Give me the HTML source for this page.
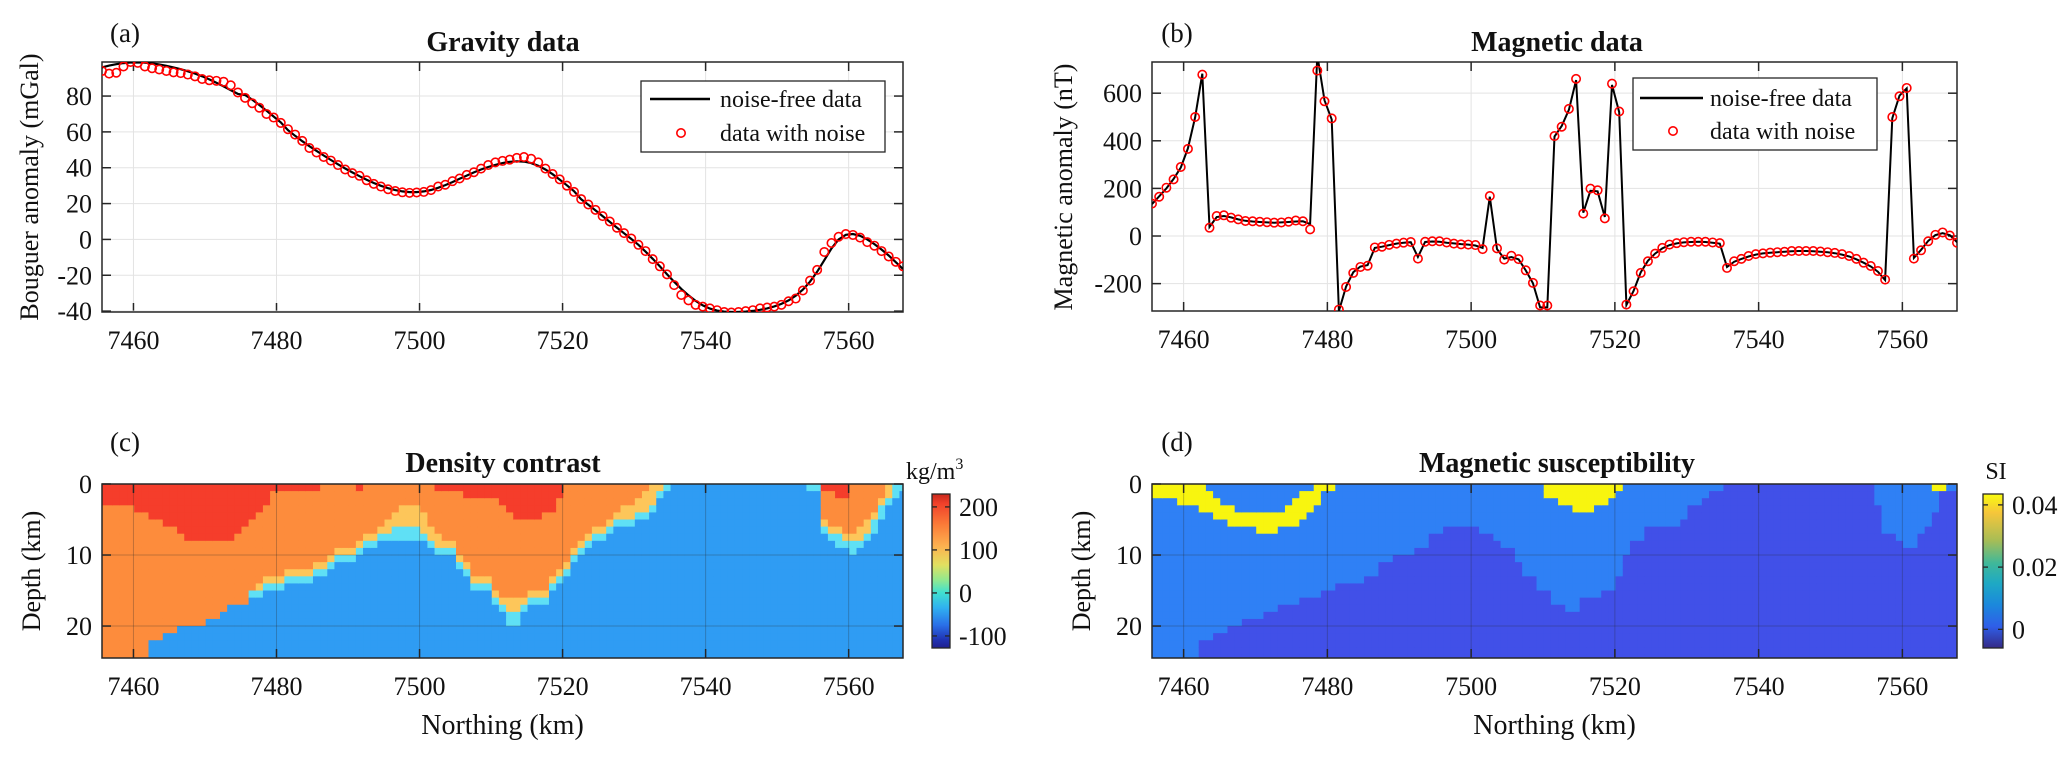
<!DOCTYPE html>
<html><head><meta charset="utf-8"><style>
html,body{margin:0;padding:0;background:#fff}
svg{display:block;font-family:"Liberation Serif","Times New Roman",serif}
</style></head><body>
<svg id="fig" width="2067" height="759" viewBox="0 0 2067 759" xmlns="http://www.w3.org/2000/svg">
<defs>
<clipPath id="clipA"><rect x="102" y="62" width="801" height="250"/></clipPath>
<clipPath id="clipB"><rect x="1152" y="62" width="805" height="249"/></clipPath>
<clipPath id="clipC"><rect x="102" y="484" width="801" height="174"/></clipPath>
<clipPath id="clipD"><rect x="1152" y="484" width="805" height="174"/></clipPath>
<linearGradient id="jetGrad" x1="0" y1="0" x2="0" y2="1">
<stop offset="0" stop-color="#c8281c"/><stop offset="0.06" stop-color="#f0402a"/><stop offset="0.2" stop-color="#fb7c38"/><stop offset="0.34" stop-color="#fcb250"/><stop offset="0.46" stop-color="#e2e060"/><stop offset="0.56" stop-color="#90e890"/><stop offset="0.64" stop-color="#40e0d0"/><stop offset="0.74" stop-color="#30b0f0"/><stop offset="0.85" stop-color="#2a70e8"/><stop offset="0.95" stop-color="#2030b0"/><stop offset="1" stop-color="#202090"/>
</linearGradient>
<linearGradient id="parGrad" x1="0" y1="0" x2="0" y2="1">
<stop offset="0" stop-color="#f9fb0e"/><stop offset="0.12" stop-color="#f6c63a"/><stop offset="0.3" stop-color="#a8bd55"/><stop offset="0.45" stop-color="#3fb89a"/><stop offset="0.58" stop-color="#1ea9c4"/><stop offset="0.72" stop-color="#1b88dc"/><stop offset="0.86" stop-color="#2f5ee8"/><stop offset="1" stop-color="#352a87"/>
</linearGradient>
</defs>
</svg>
<script>
// ---------- data ----------
const gravityClean = [96,97,97.8,98.4,98.7,98.8,98.6,98.2,97.6,96.9,96,95,93.8,92.5,91,89.3,87.4,85.4,83.3,81.2,80.6,78,75,71.8,68.6,65.3,61,57.8,54.8,52,49.4,46.8,44.3,41.9,39.6,37.4,35.3,33.3,31.5,29.9,28.6,27.5,26.8,26.4,26.4,26.8,27.6,28.8,30.3,32,33.8,35.6,37.4,39,40.4,41.6,42.6,43.3,43.6,43.4,42.6,41.1,39,36.4,33.4,30.2,26.9,22.4,19.3,16.2,13,9.8,6.6,3.4,0.3,-3,-6.8,-10.8,-15,-19.4,-23.6,-27.6,-31.2,-34.3,-36.8,-38.6,-39.7,-40.3,-40.5,-40.5,-40.3,-39.9,-39.3,-38.5,-37.4,-36,-34,-31.4,-28,-23.6,-18,-11.6,-5,0,2.6,3,2,0,-2.6,-5.6,-9,-12.7,-16.5];
const gravityNoisy = [94,92.5,93,96.5,99,98.5,96.5,95.5,94.8,94,93.2,92.8,92,91,89.5,88.8,88.5,88,86,82,79,76,73.5,70,68,65,61.5,58.5,55,51,48.5,46,44,41.5,39,37,35.5,33,31,29.5,28,27,26.3,26,26.2,26.5,27.5,29.5,30.5,32.5,34,36,37.5,39.5,41.5,43,43.8,44.5,45.5,46,45,43,39.5,36.5,33.5,30,26.5,22.5,19.5,16.5,13,10,6.5,3.5,0.5,-3,-6.5,-11,-15,-19.5,-25.5,-31,-34,-36.5,-37.5,-38.5,-39.5,-40.5,-40.8,-40.5,-40,-39.5,-38.5,-38,-37.5,-36.5,-34.5,-33,-28.5,-23,-17,-7,-2,1.5,3,2.5,1,-1.5,-3.5,-6.5,-9.5,-12.5,-15];
const magNoisy = [136,165,203,238,290,366,500,678,35,84,87,77,70,63,62,60,58,56,57,60,65,62,28,695,566,494,-309,-214,-155,-130,-125,-48,-45,-37,-32,-28,-25,-95,-24,-22,-22,-27,-32,-35,-36,-38,-55,168,-52,-99,-83,-97,-144,-197,-292,-292,420,459,534,660,94,199,192,74,640,523,-288,-232,-155,-106,-74,-50,-36,-30,-26,-24,-24,-24,-27,-30,-134,-106,-96,-84,-76,-73,-70,-68,-66,-63,-63,-63,-63,-65,-68,-71,-76,-84,-96,-112,-126,-147,-183,500,587,622,-95,-60,-22,5,15,2,-28];
const magClean = [134,167,200,240,288,368,498,682,38,80,84,78,70,64,61,59,57,56,57,59,61,62,50,760,570,490,-315,-212,-152,-128,-122,-50,-45,-38,-32,-28,-26,-88,-25,-23,-24,-28,-31,-34,-36,-40,-50,165,-55,-95,-88,-98,-145,-198,-300,-300,418,462,530,655,98,190,188,80,635,520,-290,-230,-152,-104,-74,-52,-38,-31,-27,-25,-24,-25,-28,-32,-130,-108,-96,-86,-78,-73,-70,-68,-66,-64,-63,-63,-64,-66,-68,-72,-78,-86,-98,-112,-128,-150,-185,495,590,620,-92,-58,-20,4,12,4,-26];
// density model layer bottoms (km depth) per 1-km column, 7456..7568
const densRedBot = [3,3,3,3,3.5,4,4.5,5,5.5,6,6.5,7,7.6,7.6,7.6,7.6,7.6,7.6,7.6,7,6,5,4,3,1.5,1,1,0.6,0.6,0.6,0.6,0,0,0,0,0,0.6,0,0,0,0,0,0,0,0,0,0,0.6,0.8,0.8,0.8,1.6,1.6,1.6,1.6,2,2.6,3.6,4.6,4.6,5.2,4.6,4,3.6,2.2,0,0,0,0,0,0,0,0,0,0,0,0,0,0,0,0,0,0,0,0,0,0,0,0,0,0,0,0,0,0,0,0,0,0,0,0,1,1,2.3,2.3,0,0,0,0,0,0,0,0];
const densOrangeBot = [24.5,24.5,24.5,24.5,24.5,24.5,24.5,21.6,21.6,21,21,20.3,20.3,19.6,19.6,18.7,18.7,18,17.3,17.3,16.6,14.6,14,13,13,13,12.4,12.4,12.4,11.7,11,11,10.2,9.5,8.8,8.8,8.3,7.4,7,6,5,4.2,3.5,3,3,4.5,6,7.2,8.3,8.3,10,11.2,12.6,13.5,13.5,15.2,15.8,16.2,16.2,16,15.4,15.4,15.4,13.5,11.8,10.6,9.2,7.8,6.9,6,5.6,4.6,3.8,3.3,2.6,1.6,1,0.3,0,0,0,0,0,0,0,0,0,0,0,0,0,0,0,0,0,0,0,0,0,0,0,5,6,6.5,7,7.5,6.5,5.5,4.5,2.5,0,0,0];
const densYellowBot = [24.5,24.5,24.5,24.5,24.5,24.5,24.5,21.6,21.6,21,21,20.3,20.3,19.6,19.6,18.7,18.7,18,17.3,17.3,16.6,15,15,14,14,14,13.4,13.4,13.4,12.7,12,12,11.2,10.5,9.8,9.8,9.3,8.4,8.4,7.5,7,6.2,6,6,6.2,7,7.8,8.6,9.3,9.3,11,12.2,13.6,14.5,14.5,16.2,16.8,17.6,17.6,17.4,16.4,16.4,16.4,14.5,12.8,11.6,10.2,8.8,7.9,7,7,6,5.3,5.3,4.6,3.6,3.6,2.7,1.3,0.2,0,0,0,0,0,0,0,0,0,0,0,0,0,0,0,0,0,0,0,0,0,6,7,7.5,8,8.5,8,7,5.5,3.5,2,0.5,0];
const densBlueTop = [24.5,24.5,24.5,24.5,24.5,24.5,24.5,21.6,21.6,21,21,20.3,20.3,19.6,19.6,18.7,18.7,18,17.3,17.3,16.6,15.9,15.9,15,15,15,14.4,14.4,14.4,13.7,13,13,12.2,11.5,10.8,10.8,10.3,9.4,9.4,8.5,8,7.6,7.6,7.6,7.6,8.2,8.9,9.6,10.3,10.3,12,13.2,14.6,15.5,15.5,17.4,18,19.6,19.6,18.5,17.4,17.4,17.4,15.5,13.8,12.6,11.2,9.8,8.9,8,8,7,6.3,6.3,5.6,4.6,4.6,3.7,2.3,0.6,0,0,0,0,0,0,0,0,0,0,0,0,0,0,0,0,0,0,0,1,1.5,7,8.2,8.7,9,10,9,8,7,5,3.5,2.5,1.5];
// susceptibility model
const suscYellowTop = [0,0,0,0,0,0,0,0,1.5,2,2.7,3.4,3.7,3.7,3.7,3.7,3.7,3.7,3.7,3.3,2.5,1.5,0.8,0,0,0,0,0,0,0,0,0,0,0,0,0,0,0,0,0,0,0,0,0,0,0,0,0,0,0,0,0,0,0,0,0,0,0,0,0.5,0.5,0.5,0.5,0.5,0,0,0,0,0,0,0,0,0,0,0,0,0,0,0,0,0,0,0,0,0,0,0,0,0,0,0,0,0,0,0,0,0,0,0,0,0,0,0,0,0,0,0,0,0,0,0,0,0];
const suscYellowBot = [2,2,2,2,3.2,3.2,3.2,4.1,4.1,5,5,5.6,5.6,6.5,6.5,7.3,7.3,7.3,6.5,6.5,5.6,4.7,3.7,2.7,1.5,1.2,0,0,0,0,0,0,0,0,0,0,0,0,0,0,0,0,0,0,0,0,0,0,0,0,0,0,0,0,0,2,2.2,3,3.5,3.7,3.7,4.4,3.5,3,2.5,1.5,0,0,0,0,0,0,0,0,0,0,0,0,0,0,0,0,0,0,0,0,0,0,0,0,0,0,0,0,0,0,0,0,0,0,0,0,0,0,0,0,0,0,0,1.3,1.3,0,0,0,0,0,0,0,0];
const suscDarkTop = [24.5,24.5,24.5,24.5,24.5,24.5,24.5,21.8,21.8,20.9,20.9,20.2,20.2,19.5,19.5,18.8,18,18,17.4,16.7,16.7,15.9,15.9,15.9,15,15,14.3,14.3,13.6,13.6,12.6,12.6,11.5,11.5,10.5,10.5,9.8,8.9,8.9,7.5,7.5,6,6,6,6.2,6.2,7,7,8.2,9.3,9.3,10.8,12.6,12.6,15,15,17.1,17.1,17.8,17.8,16.4,16.4,16.4,14.8,14.8,12.6,10.3,7.9,7.9,6.5,6.5,5.8,5.8,5.8,4.6,3.2,3.2,2.3,1.1,1.1,0,0,0,0,0,0,0,0,0,0,0,0,0,0,0,0,0,0,0,0,0,3.4,7,7,8.2,8.9,8.9,7,5.6,4.2,0,0.8,0.8];
const xTicks = [7460,7480,7500,7520,7540,7560];
const gravYTicks = [-40,-20,0,20,40,60,80];
const magYTicks = [-200,0,200,400,600];
const depthTicks = [0,10,20];
const densCbTicks = [-100,0,100,200];
const suscCbTicks = [0,0.02,0.04];

// ---------- helpers ----------
const NS = 'http://www.w3.org/2000/svg';
const svg = document.getElementById('fig');
function mk(tag, attrs, parent, text) {
  const e = document.createElementNS(NS, tag);
  for (const k in attrs) e.setAttribute(k, attrs[k]);
  if (text !== undefined) e.textContent = text;
  (parent || svg).appendChild(e);
  return e;
}
const X0 = 7455.6, X1 = 7567.6;
function xScale(L, W) { return v => L + (v - X0) / (X1 - X0) * W; }
function yScale(T, H, vmax, vmin) { return v => T + (vmax - v) / (vmax - vmin) * H; }
const northing = [];
for (let i = 0; i < 113; i++) northing.push(X0 + i);

function frame(name, L, T, W, H, xs, ys, yticks, fmt, gridColor) {
  const g = mk('g', {}, svg);
  
  
  xTicks.forEach(t => {
    const x = xs(t);
    const gl = mk('line', {x1: x, x2: x, y1: T, y2: T + H, stroke: gridColor, 'stroke-width': 1}, g);
    
    
    mk('line', {x1: x, x2: x, y1: T + H, y2: T + H - 9, stroke: '#262626', 'stroke-width': 1.5}, g);
    mk('line', {x1: x, x2: x, y1: T, y2: T + 9, stroke: '#262626', 'stroke-width': 1.5}, g);
    const tl = mk('text', {x: x, y: T + H + 37, 'font-size': 26, 'text-anchor': 'middle', fill: '#111'}, g, String(t));
    
    
  });
  yticks.forEach(t => {
    const y = ys(t);
    const gl = mk('line', {x1: L, x2: L + W, y1: y, y2: y, stroke: gridColor, 'stroke-width': 1}, g);
    
    
    mk('line', {x1: L, x2: L + 9, y1: y, y2: y, stroke: '#262626', 'stroke-width': 1.5}, g);
    mk('line', {x1: L + W, x2: L + W - 9, y1: y, y2: y, stroke: '#262626', 'stroke-width': 1.5}, g);
    const tl = mk('text', {x: L - 10, y: y + 9, 'font-size': 26, 'text-anchor': 'end', fill: '#111'}, g, fmt(t));
    
    
  });
  const b = mk('rect', {x: L, y: T, width: W, height: H, fill: 'none', stroke: '#262626', 'stroke-width': 1.5}, g);
  
  
}
function label(txt, x, y, size, name, opts) {
  const a = Object.assign({x: x, y: y, 'font-size': size, 'text-anchor': 'middle', fill: '#111'}, opts || {});
  const t = mk('text', a, svg, txt);
  
  
  return t;
}

// ---------- panel (a) gravity ----------
(function () {
  const L = 102, T = 62, W = 801, H = 250;
  const xs = xScale(L, W), ys = yScale(T, H, 99, -40.5);
  frame('gravity', L, T, W, H, xs, ys, gravYTicks, v => String(v), '#e3e3e3');
  const g = mk('g', {'clip-path': 'url(#clipA)'});
  
  
  let d = '';
  gravityClean.forEach((v, i) => { d += (i ? 'L' : 'M') + xs(northing[i]).toFixed(1) + ' ' + ys(v).toFixed(1); });
  const line = mk('path', {d: d, fill: 'none', stroke: '#000', 'stroke-width': 2.2}, g);
  
  
  gravityNoisy.forEach((v, i) => {
    const c = mk('circle', {cx: xs(northing[i]), cy: ys(v), r: 4.2, fill: 'none', stroke: '#ff0000', 'stroke-width': 1.6}, g);
    
    
  });
  const lg = mk('g', {});
  
  
  mk('rect', {x: 641, y: 81, width: 244, height: 71, fill: '#fff', stroke: '#262626', 'stroke-width': 1.3}, lg);
  mk('line', {x1: 650, x2: 710, y1: 99, y2: 99, stroke: '#000', 'stroke-width': 2.5}, lg);
  mk('circle', {cx: 681, cy: 133, r: 4.2, fill: 'none', stroke: '#ff0000', 'stroke-width': 1.6}, lg);
  const t1 = mk('text', {x: 720, y: 107, 'font-size': 24, fill: '#111'}, lg, 'noise-free data');
  
  
  const t2 = mk('text', {x: 720, y: 141, 'font-size': 24, fill: '#111'}, lg, 'data with noise');
  
  
  label('Gravity data', 503, 51, 28, 'gravity-title', {'font-weight': 'bold'});
  label('(a)', 125, 42, 27, 'panel-label-a');
  label('Bouguer anomaly (mGal)', 0, 0, 26, 'gravity-y-axis-title', {transform: 'translate(38,187) rotate(-90)'});
})();

// ---------- panel (b) magnetic ----------
(function () {
  const L = 1152, T = 62, W = 805, H = 249;
  const xs = xScale(L, W), ys = yScale(T, H, 731, -315);
  frame('magnetic', L, T, W, H, xs, ys, magYTicks, v => String(v), '#e3e3e3');
  const g = mk('g', {'clip-path': 'url(#clipB)'});
  
  
  let d = '';
  magClean.forEach((v, i) => { d += (i ? 'L' : 'M') + xs(northing[i]).toFixed(1) + ' ' + ys(v).toFixed(1); });
  const line = mk('path', {d: d, fill: 'none', stroke: '#000', 'stroke-width': 2}, g);
  
  
  magNoisy.forEach((v, i) => {
    const c = mk('circle', {cx: xs(northing[i]), cy: ys(v), r: 4.2, fill: 'none', stroke: '#ff0000', 'stroke-width': 1.6}, g);
    
    
  });
  const lg = mk('g', {});
  
  
  mk('rect', {x: 1633, y: 78, width: 244, height: 72, fill: '#fff', stroke: '#262626', 'stroke-width': 1.3}, lg);
  mk('line', {x1: 1640, x2: 1703, y1: 98, y2: 98, stroke: '#000', 'stroke-width': 2.5}, lg);
  mk('circle', {cx: 1673, cy: 131, r: 4.2, fill: 'none', stroke: '#ff0000', 'stroke-width': 1.6}, lg);
  const t1 = mk('text', {x: 1710, y: 106, 'font-size': 24, fill: '#111'}, lg, 'noise-free data');
  
  
  const t2 = mk('text', {x: 1710, y: 139, 'font-size': 24, fill: '#111'}, lg, 'data with noise');
  
  
  label('Magnetic data', 1557, 51, 28, 'magnetic-title', {'font-weight': 'bold'});
  label('(b)', 1177, 42, 27, 'panel-label-b');
  label('Magnetic anomaly (nT)', 0, 0, 26, 'magnetic-y-axis-title', {transform: 'translate(1072,187) rotate(-90)'});
})();

// ---------- heatmaps ----------
const DMAX = 24.5;
function heatmap(name, L, W, clip, colorAt) {
  const T = 484, H = 174;
  const xs = xScale(L, W);
  const ys = v => T + v / DMAX * H;
  const g = mk('g', {'clip-path': 'url(' + clip + ')'});
  
  
  for (let i = 0; i < northing.length; i++) {
    const x0 = xs(northing[i] - 0.5), x1 = xs(northing[i] + 0.5);
    for (let r = 0; r < 25; r++) {
      const d0 = r, d1 = Math.min(r + 1, DMAX);
      const col = colorAt(i, (d0 + d1) / 2);
      const c = mk('rect', {x: x0.toFixed(2), y: ys(d0).toFixed(2), width: (x1 - x0 + 0.6).toFixed(2), height: (ys(d1) - ys(d0) + 0.6).toFixed(2), fill: col}, g);
      
      
    }
  }
  frame(name, L, T, W, H, xs, ys, depthTicks, v => String(v), 'rgba(40,40,40,0.28)');
  label('Northing (km)', L + W / 2, 734, 28, name + '-x-axis-title');
  label('Depth (km)', 0, 0, 26, name + '-y-axis-title', {transform: 'translate(' + (L - 62) + ',571) rotate(-90)'});
}
heatmap('density', 102, 801, '#clipC', (i, d) => {
  if (d < densRedBot[i]) return '#f53d2b';
  if (d < densOrangeBot[i]) return '#fd8c3c';
  if (d < densYellowBot[i]) return '#fdc65a';
  if (d < densBlueTop[i]) return '#5fe0f5';
  return '#2f9cf3';
});
heatmap('susceptibility', 1152, 805, '#clipD', (i, d) => {
  if (d >= suscYellowTop[i] && d < suscYellowBot[i]) return '#f8f50f';
  if (d < suscDarkTop[i]) return '#2f80f5';
  return '#4150e8';
});
label('Density contrast', 503, 472, 28, 'density-title', {'font-weight': 'bold'});
label('(c)', 125, 451, 27, 'panel-label-c');
label('Magnetic susceptibility', 1557, 472, 28, 'susceptibility-title', {'font-weight': 'bold'});
label('(d)', 1177, 451, 27, 'panel-label-d');

// ---------- colorbars ----------
function colorbar(name, L, Wd, grad, vmin, vmax, ticks, fmt) {
  const T = 494, H = 154;
  const g = mk('g', {});
  
  
  mk('rect', {x: L, y: T, width: Wd, height: H, fill: 'url(#' + grad + ')', stroke: '#262626', 'stroke-width': 1.3}, g);
  const cy = v => T + (vmax - v) / (vmax - vmin) * H;
  ticks.forEach(t => {
    const y = cy(t);
    mk('line', {x1: L, x2: L + 5, y1: y, y2: y, stroke: '#262626', 'stroke-width': 1.3}, g);
    mk('line', {x1: L + Wd, x2: L + Wd - 5, y1: y, y2: y, stroke: '#262626', 'stroke-width': 1.3}, g);
    const tl = mk('text', {x: L + Wd + 9, y: y + 9, 'font-size': 26, fill: '#111'}, g, fmt(t));
    
    
  });
}
colorbar('density', 932, 18, 'jetGrad', -128, 230, densCbTicks, v => String(v));
colorbar('susceptibility', 1983, 20, 'parGrad', -0.006, 0.0435, suscCbTicks, v => v === 0 ? '0' : v.toFixed(2));
const unit = label('kg/m', 906, 479, 24, 'density-colorbar-unit', {'text-anchor': 'start'});
mk('tspan', {dy: -10, 'font-size': 16}, unit, '3');
label('SI', 1996, 479, 24, 'susceptibility-colorbar-unit');
</script>
</body></html>
